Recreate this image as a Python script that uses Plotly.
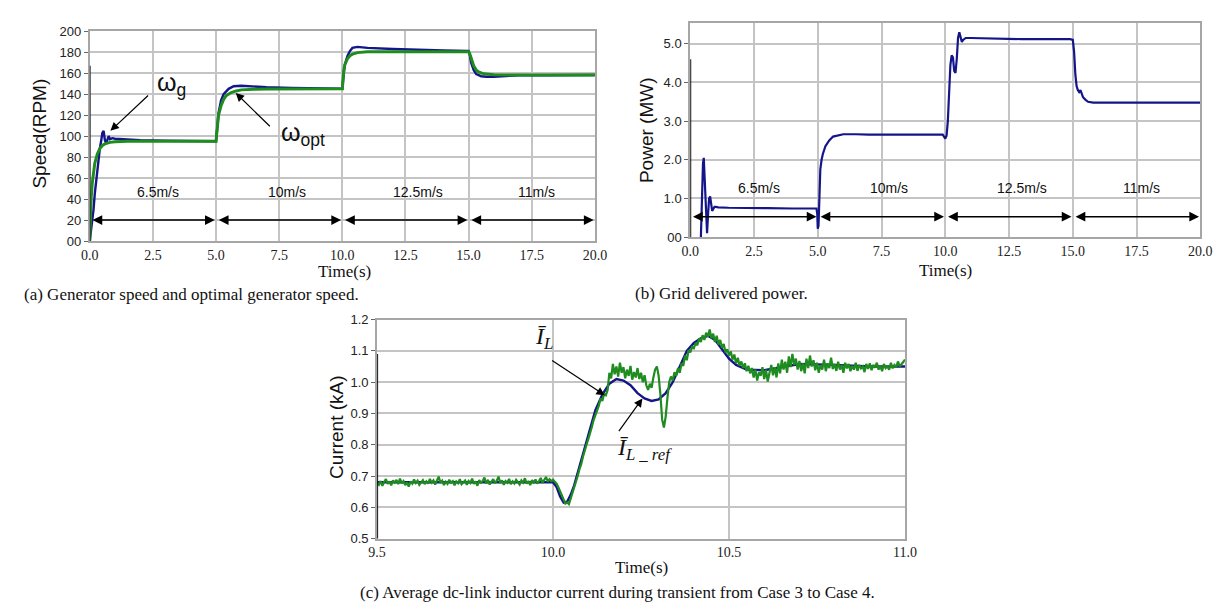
import plotly.graph_objects as go

# ---------------- data ----------------
# (a) generator speed (RPM)
wg_t = [0, 0.05, 0.1, 0.15, 0.2, 0.3, 0.4, 0.45, 0.5, 0.55, 0.6, 0.65, 0.7, 0.75, 0.8,
        0.9, 1.0, 1.5, 2.0, 3.0, 4.0, 4.95, 5.0, 5.05, 5.1, 5.2, 5.3, 5.5, 5.7, 6.0,
        6.5, 7.0, 8.0, 9.0, 9.95, 10.0, 10.05, 10.1, 10.2, 10.3, 10.4, 10.6, 10.8, 11.0, 12.0,
        13.0, 14.0, 14.95, 15.0, 15.05, 15.1, 15.2, 15.3, 15.5, 15.7, 16.0, 16.5, 17.0, 18.0, 19.0,
        20.0]
wg = [0, 10, 15, 30, 45, 70, 88, 95, 103, 105, 96, 93, 96, 100, 97,
      98, 97.5, 96.5, 96, 95.5, 95, 95, 95, 108, 122, 134, 140, 145, 147.5, 148,
      147, 146.5, 145.8, 145.3, 145, 145, 158, 168, 176, 181, 184, 185, 184.5, 184, 183,
      182, 181.5, 181, 181, 177, 170, 163, 159, 157, 156.5, 156.5, 157.5, 158, 158, 158.2,
      158.2]
wo_t = [0, 0.03, 0.06, 0.1, 0.15, 0.2, 0.3, 0.4, 0.5, 0.6, 0.8, 1.0, 1.5, 2.0, 5.0,
        5.03, 5.06, 5.1, 5.2, 5.3, 5.4, 5.6, 5.8, 6.0, 6.5, 7.0, 10.0, 10.03, 10.06, 10.1,
        10.2, 10.3, 10.4, 10.6, 10.8, 11.0, 12.0, 15.0, 15.05, 15.1, 15.2, 15.3, 15.4, 15.6, 15.8,
        16.0, 17.0, 20.0]
wo = [0, 25, 42, 55, 66, 74, 83, 88, 91, 92.5, 94, 94.5, 95, 95, 95,
      103, 112, 120, 129, 135, 138.5, 141.5, 143, 144, 144.6, 144.8, 145, 155, 163, 168,
      173.5, 176.5, 178, 179.5, 180, 180.2, 180.3, 180.3, 178, 174, 167, 163, 161, 159.3, 158.6,
      158.3, 158.2, 158.2]

# (b) grid delivered power (MW)
p_t = [0, 0.02, 0.4, 0.44, 0.47, 0.5, 0.53, 0.56, 0.6, 0.63, 0.66, 0.7, 0.74, 0.78, 0.82,
       0.86, 0.9, 0.95, 1.0, 1.1, 1.5, 2.0, 3.0, 4.0, 4.95, 4.98, 5.0, 5.03, 5.06, 5.1,
       5.15, 5.2, 5.3, 5.45, 5.6, 5.8, 6.0, 6.5, 7.0, 8.0, 9.0, 9.9, 10.0, 10.05, 10.1,
       10.15, 10.2, 10.25, 10.3, 10.35, 10.4, 10.45, 10.5, 10.55, 10.6, 10.65, 10.7, 10.8, 11.0, 12.0,
       13.0, 14.0, 14.9, 15.0, 15.05, 15.1, 15.15, 15.2, 15.25, 15.3, 15.35, 15.4, 15.5, 15.6, 15.8,
       16.0, 17.0, 18.0, 19.0, 20.0]
p = [0.0, -0.4, -0.4, 0.7, 0.75, 1.9, 2.05, 1.6, 0.9, 0.2, 0.1, 0.6, 1.0, 1.05, 0.85,
     0.68, 0.72, 0.78, 0.78, 0.77, 0.76, 0.76, 0.75, 0.74, 0.74, 0.6, 0.22, 0.3, 1.3, 1.75,
     2.0, 2.15, 2.35, 2.5, 2.6, 2.64, 2.66, 2.66, 2.65, 2.65, 2.65, 2.65, 2.55, 2.62, 3.0,
     3.9, 4.45, 4.7, 4.65, 4.3, 4.25, 4.6, 5.15, 5.3, 5.2, 5.05, 5.1, 5.15, 5.15, 5.13,
     5.12, 5.12, 5.12, 5.1, 4.8, 4.2, 3.9, 3.8, 3.75, 3.8, 3.72, 3.62, 3.55, 3.5, 3.48,
     3.48, 3.48, 3.48, 3.49, 3.48]

# (c) average dc-link inductor current (kA): reference (smooth) and measured (noisy)
ir_t = [9.5, 9.6, 9.7, 9.8, 9.9, 10.0, 10.01, 10.02, 10.03, 10.04, 10.05, 10.06, 10.08, 10.1,
        10.12, 10.14, 10.16, 10.18, 10.2, 10.22, 10.24, 10.26, 10.28, 10.3, 10.32, 10.34, 10.36,
        10.38, 10.4, 10.42, 10.44, 10.46, 10.48, 10.5, 10.52, 10.55, 10.6, 10.65, 10.7, 10.8,
        10.9, 11.0]
ir = [0.68, 0.68, 0.68, 0.68, 0.68, 0.68, 0.665, 0.635, 0.615, 0.618, 0.64, 0.67, 0.75, 0.83,
      0.91, 0.96, 0.995, 1.01, 1.005, 0.99, 0.965, 0.948, 0.94, 0.945, 0.965, 1.0, 1.05,
      1.1, 1.125, 1.14, 1.148, 1.135, 1.105, 1.075, 1.055, 1.04, 1.038, 1.048, 1.058, 1.055,
      1.05, 1.05]
il_start, il_step = 9.500, 0.005
il = [
    # 9.500 - 9.995
    0.678, 0.672, 0.684, 0.669, 0.681, 0.690, 0.675, 0.683, 0.670, 0.686,
    0.679, 0.688, 0.674, 0.692, 0.677, 0.684, 0.671, 0.680, 0.666, 0.683,
    0.676, 0.689, 0.678, 0.685, 0.672, 0.681, 0.687, 0.674, 0.683, 0.676,
    0.691, 0.679, 0.686, 0.673, 0.684, 0.698, 0.678, 0.685, 0.671, 0.682,
    0.675, 0.688, 0.679, 0.684, 0.670, 0.683, 0.677, 0.690, 0.674, 0.681,
    0.686, 0.672, 0.684, 0.678, 0.692, 0.675, 0.683, 0.669, 0.687, 0.679,
    0.684, 0.695, 0.676, 0.688, 0.673, 0.682, 0.690, 0.677, 0.685, 0.698,
    0.678, 0.686, 0.672, 0.684, 0.679, 0.691, 0.674, 0.683, 0.676, 0.688,
    0.681, 0.673, 0.686, 0.679, 0.693, 0.676, 0.684, 0.671, 0.687, 0.680,
    0.689, 0.676, 0.684, 0.694, 0.678, 0.686, 0.697, 0.682, 0.690, 0.684,
    # 10.000 - 10.495
    0.688, 0.682, 0.676, 0.664, 0.650, 0.636, 0.622, 0.612, 0.616, 0.610,
    0.628, 0.645, 0.662, 0.683, 0.700, 0.722, 0.738, 0.762, 0.778, 0.800,
    0.818, 0.842, 0.856, 0.878, 0.892, 0.912, 0.925, 0.948, 0.940, 0.962,
    0.958, 0.975, 1.030, 1.012, 1.058, 1.025, 1.050, 1.018, 1.062, 1.030,
    1.048, 1.012, 1.040, 1.020, 1.052, 1.008, 1.032, 1.015, 1.045, 1.010,
    1.030, 1.000, 1.022, 0.990, 0.975, 0.995, 0.982, 1.015, 1.040, 1.050,
    1.020, 0.960, 0.880, 0.855, 0.890, 0.950, 1.000, 1.018, 1.005, 1.032,
    1.020, 1.045, 1.030, 1.060, 1.052, 1.085, 1.070, 1.102, 1.095, 1.112,
    1.108, 1.125, 1.118, 1.140, 1.128, 1.150, 1.135, 1.158, 1.145, 1.168,
    1.140, 1.155, 1.128, 1.148, 1.120, 1.135, 1.110, 1.122, 1.095, 1.105,
    # 10.500 - 11.000
    1.085, 1.098, 1.072, 1.088, 1.060, 1.078, 1.052, 1.066, 1.045, 1.060,
    1.035, 1.052, 1.028, 1.045, 1.015, 1.040, 1.005, 1.032, 1.020, 1.048,
    1.010, 1.040, 1.002, 1.030, 1.055, 1.022, 1.048, 1.015, 1.060, 1.028,
    1.072, 1.040, 1.065, 1.030, 1.082, 1.048, 1.090, 1.055, 1.075, 1.040,
    1.068, 1.035, 1.060, 1.028, 1.075, 1.045, 1.085, 1.050, 1.070, 1.038,
    1.062, 1.030, 1.055, 1.040, 1.072, 1.035, 1.060, 1.045, 1.078, 1.042,
    1.058, 1.036, 1.065, 1.040, 1.055, 1.030, 1.062, 1.044, 1.058, 1.035,
    1.052, 1.040, 1.062, 1.036, 1.055, 1.044, 1.050, 1.032, 1.058, 1.042,
    1.060, 1.038, 1.055, 1.046, 1.062, 1.040, 1.052, 1.035, 1.058, 1.045,
    1.050, 1.040, 1.062, 1.044, 1.055, 1.048, 1.066, 1.050, 1.058, 1.062,
    1.072]
il_t = [round(il_start + i * il_step, 3) for i in range(len(il))]

# wind-speed segments
seg_edges = [0, 5, 10, 15, 20]
wind_labels = ["6.5m/s", "10m/s", "12.5m/s", "11m/s"]
wind_label_t = [2.7, 7.8, 13.0, 17.7]

# tick labels
t_ticks = [0, 2.5, 5, 7.5, 10, 12.5, 15, 17.5, 20]
t_ticktext = ["0.0", "2.5", "5.0", "7.5", "10.0", "12.5", "15.0", "17.5", "20.0"]
speed_ticks = [0, 20, 40, 60, 80, 100, 120, 140, 160, 180, 200]
speed_ticktext = ["00", "20", "40", "60", "80", "100", "120", "140", "160", "180", "200"]
power_ticks = [0, 1, 2, 3, 4, 5]
power_ticktext = ["00", "1.0", "2.0", "3.0", "4.0", "5.0"]
cur_ticks = [0.5, 0.6, 0.7, 0.8, 0.9, 1.0, 1.1, 1.2]
cur_ticktext = ["0.5", "0.6", "0.7", "0.8", "0.9", "1.0", "1.1", "1.2"]
c_t_ticks = [9.5, 10.0, 10.5, 11.0]
c_t_ticktext = ["9.5", "10.0", "10.5", "11.0"]

# ---------------- styling ----------------
W, H = 1223, 603
SANS = "Liberation Sans, Arial, sans-serif"
SERIF = "Liberation Serif, Times New Roman, serif"
BLUE = "#15158a"
GREEN = "#1f8c1f"
GRID = "#c4c4c4"
BORDER = "#a6a6a6"


def xd(a, b):
    return [a / W, b / W]


def yd(top, bottom):
    return [1 - bottom / H, 1 - top / H]


def xaxis_style(dom, rng, tv, tt, anchor):
    return dict(domain=dom, range=rng, tickvals=tv, ticktext=tt, anchor=anchor,
                showline=True, linecolor=BORDER, linewidth=2, mirror=True,
                showgrid=True, gridcolor=GRID, gridwidth=1.5, zeroline=False,
                ticks="", tickfont=dict(family=SERIF, size=14, color="#222"))


def yaxis_style(dom, rng, tv, tt, anchor):
    return dict(domain=dom, range=rng, tickvals=tv, ticktext=tt, anchor=anchor,
                showline=True, linecolor=BORDER, linewidth=2, mirror=True,
                showgrid=True, gridcolor=GRID, gridwidth=1.5, zeroline=False,
                ticks="outside", ticklen=4, tickcolor="#666",
                tickfont=dict(family=SANS, size=13, color="#222"))


fig = go.Figure()

# (a)
fig.add_trace(go.Scatter(x=wg_t, y=wg, mode="lines", line=dict(color=BLUE, width=2.4),
                         xaxis="x", yaxis="y", hoverinfo="skip"))
fig.add_trace(go.Scatter(x=wo_t, y=wo, mode="lines", line=dict(color=GREEN, width=3),
                         xaxis="x", yaxis="y", hoverinfo="skip"))
# (b)
fig.add_trace(go.Scatter(x=p_t, y=p, mode="lines", line=dict(color=BLUE, width=2.2),
                         xaxis="x2", yaxis="y2", hoverinfo="skip"))
# (c)
fig.add_trace(go.Scatter(x=ir_t, y=ir, mode="lines", line=dict(color=BLUE, width=2.4),
                         xaxis="x3", yaxis="y3", hoverinfo="skip"))
fig.add_trace(go.Scatter(x=il_t, y=il, mode="lines", line=dict(color=GREEN, width=2.2),
                         xaxis="x3", yaxis="y3", hoverinfo="skip"))

annotations = []
shapes = []

# double-headed wind segment arrows and labels
for (xa, ya, yarrow, ylab) in [("x", "y", 20, 47), ("x2", "y2", 0.53, 1.26)]:
    for i in range(4):
        a0, a1 = seg_edges[i], seg_edges[i + 1]
        annotations.append(dict(x=a1 - 0.05, y=yarrow, ax=a0 + 0.05, ay=yarrow,
                                xref=xa, yref=ya, axref=xa, ayref=ya, text="",
                                showarrow=True, arrowhead=2, arrowside="end+start",
                                arrowsize=1.3, arrowwidth=1.5, arrowcolor="black",
                                standoff=0, startstandoff=0))
        annotations.append(dict(x=wind_label_t[i], y=ylab, xref=xa, yref=ya,
                                text=wind_labels[i], showarrow=False,
                                font=dict(family=SANS, size=14, color="#111")))


# pointer arrows
def pointer(xa, ya, hx, hy, tx, ty):
    annotations.append(dict(x=hx, y=hy, ax=tx, ay=ty, xref=xa, yref=ya, axref=xa, ayref=ya,
                            text="", showarrow=True, arrowhead=2, arrowsize=1.4,
                            arrowwidth=1.2, arrowcolor="black", standoff=0))


pointer("x", "y", 0.82, 105, 2.37, 140)
pointer("x", "y", 5.78, 141, 7.19, 108)
pointer("x3", "y3", 10.147, 0.958, 9.993, 1.072)
pointer("x3", "y3", 10.254, 0.948, 10.184, 0.839)

annotations.append(dict(x=3.25, y=150, xref="x", yref="y", showarrow=False,
                        text="ω<sub>g</sub>", font=dict(family=SANS, size=25, color="#111")))
annotations.append(dict(x=8.45, y=102, xref="x", yref="y", showarrow=False,
                        text="ω<sub>opt</sub>", font=dict(family=SANS, size=25, color="#111")))
annotations.append(dict(x=9.975, y=1.14, xref="x3", yref="y3", showarrow=False,
                        text="<i>Ī</i><sub><i>L</i></sub>",
                        font=dict(family=SERIF, size=24, color="#111")))
annotations.append(dict(x=10.26, y=0.785, xref="x3", yref="y3", showarrow=False,
                        text="<i>Ī</i><sub><i>L _ ref</i></sub>",
                        font=dict(family=SERIF, size=24, color="#111")))


# axis titles and captions
def ptext(x, y, txt, fam, size, angle=0, xanchor="center"):
    annotations.append(dict(x=x / W, y=1 - y / H, xref="paper", yref="paper", text=txt,
                            showarrow=False, textangle=angle, xanchor=xanchor, yanchor="middle",
                            font=dict(family=fam, size=size, color="#111")))


ptext(23, 122, "Speed(RPM)", SANS, 19, -90)
ptext(640, 118, "Power (MW)", SANS, 19, -90)
ptext(325, 423, "Current (kA)", SANS, 19, -90)
ptext(333, 263, "Time(s)", SERIF, 17)
ptext(945, 262, "Time(s)", SERIF, 17)
ptext(635, 567, "Time(s)", SERIF, 17)
ptext(5, 287, "(a) Generator speed and optimal generator speed.", SERIF, 17, xanchor="left")
ptext(627, 286, "(b) Grid delivered power.", SERIF, 17, xanchor="left")
ptext(611, 592, "(c) Average dc-link inductor current during transient from Case 3 to Case 4.",
      SERIF, 17)

# dark left edge lines (artefacts of original plot)
shapes.append(dict(type="line", xref="x", yref="y", x0=0, x1=0, y0=0, y1=167,
                   line=dict(color="#333", width=2)))
shapes.append(dict(type="line", xref="x2", yref="y2", x0=0, x1=0, y0=0, y1=4.6,
                   line=dict(color="#111", width=2)))
shapes.append(dict(type="line", xref="x3", yref="y3", x0=9.5, x1=9.5, y0=0.5, y1=1.09,
                   line=dict(color="#111", width=2)))

fig.update_layout(
    width=W, height=H, margin=dict(l=0, r=0, t=0, b=0),
    paper_bgcolor="white", plot_bgcolor="white", showlegend=False,
    xaxis=xaxis_style(xd(74, 588), [0, 20], t_ticks, t_ticktext, "y"),
    yaxis=yaxis_style(yd(16.5, 231.8), [0, 200], speed_ticks, speed_ticktext, "x"),
    xaxis2=xaxis_style(xd(685, 1204), [0, 20], t_ticks, t_ticktext, "y2"),
    yaxis2=yaxis_style(yd(8.5, 227.8), [0, 5.53], power_ticks, power_ticktext, "x2"),
    xaxis3=xaxis_style(xd(366.4, 903.5), [9.5, 11.0], c_t_ticks, c_t_ticktext, "y3"),
    yaxis3=yaxis_style(yd(312.3, 537), [0.5, 1.2], cur_ticks, cur_ticktext, "x3"),
    annotations=annotations, shapes=shapes,
)

fig.write_html("out.html")
